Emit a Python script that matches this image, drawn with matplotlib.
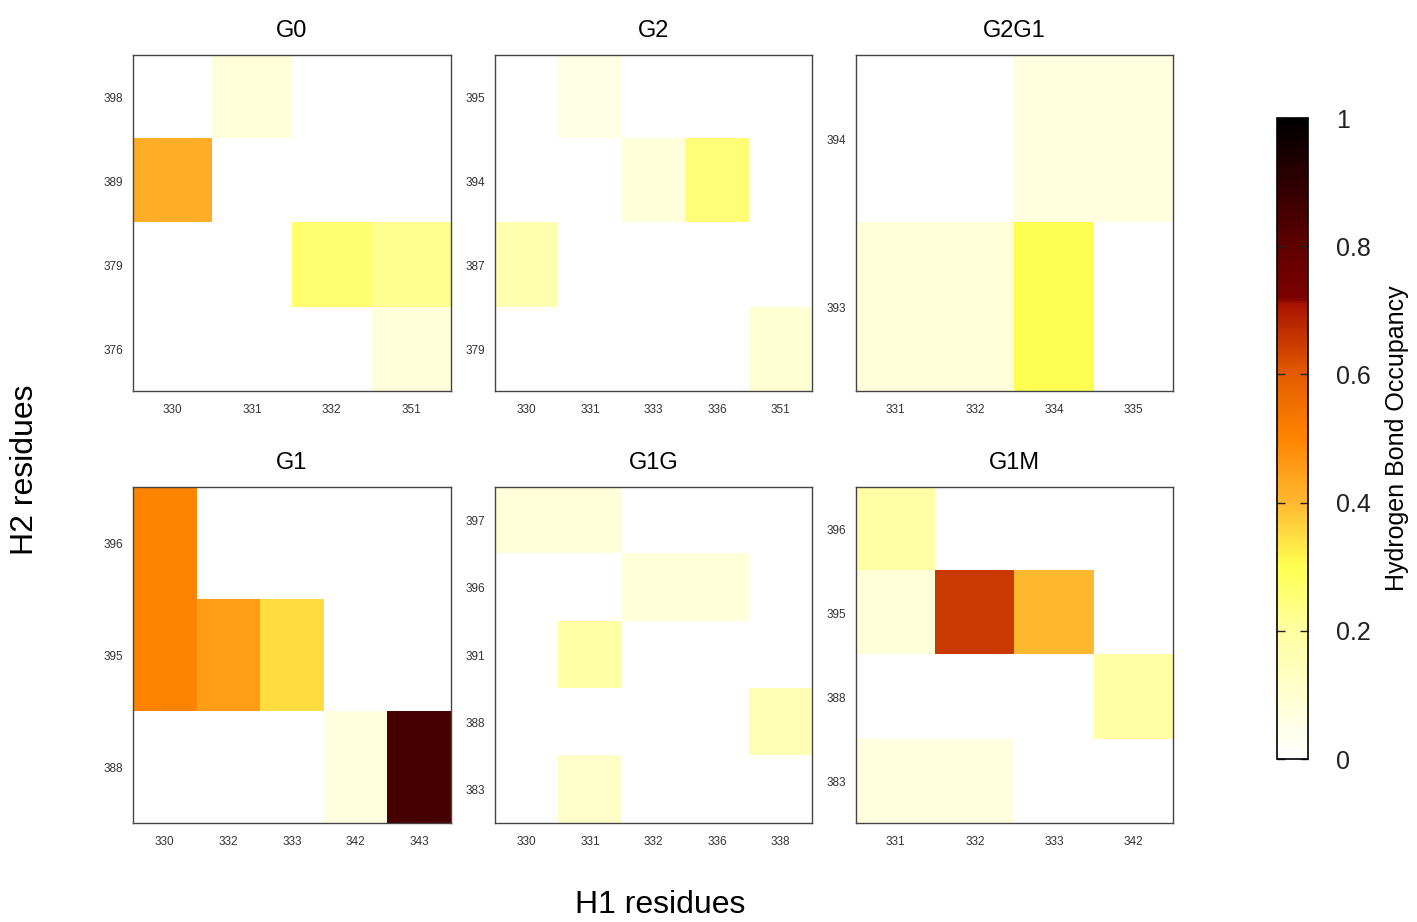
import numpy as np
import matplotlib
matplotlib.use("Agg")
import matplotlib.pyplot as plt
from matplotlib.colors import LinearSegmentedColormap

plt.rcParams['font.family'] = ['Liberation Sans', 'DejaVu Sans']

# ---------------- data ----------------
g0_x = ["330", "331", "332", "351"]
g0_y = ["398", "389", "379", "376"]
g0_v = [[0.00, 0.08, 0.00, 0.00],
        [0.42, 0.00, 0.00, 0.00],
        [0.00, 0.00, 0.26, 0.22],
        [0.00, 0.00, 0.00, 0.08]]

g2_x = ["330", "331", "333", "336", "351"]
g2_y = ["395", "394", "387", "379"]
g2_v = [[0.00, 0.06, 0.00, 0.00, 0.00],
        [0.00, 0.00, 0.08, 0.25, 0.00],
        [0.17, 0.00, 0.00, 0.00, 0.00],
        [0.00, 0.00, 0.00, 0.00, 0.09]]

g2g1_x = ["331", "332", "334", "335"]
g2g1_y = ["394", "393"]
g2g1_v = [[0.00, 0.00, 0.07, 0.07],
          [0.08, 0.08, 0.30, 0.00]]

g1_x = ["330", "332", "333", "342", "343"]
g1_y = ["396", "395", "388"]
g1_v = [[0.50, 0.00, 0.00, 0.00, 0.00],
        [0.50, 0.45, 0.35, 0.00, 0.00],
        [0.00, 0.00, 0.00, 0.07, 0.85]]

g1g_x = ["330", "331", "332", "336", "338"]
g1g_y = ["397", "396", "391", "388", "383"]
g1g_v = [[0.08, 0.08, 0.00, 0.00, 0.00],
         [0.00, 0.00, 0.08, 0.08, 0.00],
         [0.00, 0.19, 0.00, 0.00, 0.00],
         [0.00, 0.00, 0.00, 0.00, 0.16],
         [0.00, 0.11, 0.00, 0.00, 0.00]]

g1m_x = ["331", "332", "333", "342"]
g1m_y = ["396", "395", "388", "383"]
g1m_v = [[0.19, 0.00, 0.00, 0.00],
         [0.08, 0.65, 0.40, 0.00],
         [0.00, 0.00, 0.00, 0.19],
         [0.07, 0.07, 0.00, 0.00]]

titles = ["G0", "G2", "G2G1", "G1", "G1G", "G1M"]
panels = [(g0_x, g0_y, g0_v), (g2_x, g2_y, g2_v), (g2g1_x, g2g1_y, g2g1_v),
          (g1_x, g1_y, g1_v), (g1g_x, g1g_y, g1g_v), (g1m_x, g1m_y, g1m_v)]
cbar_ticks = [0, 0.2, 0.4, 0.6, 0.8, 1]
cbar_ticklabels = ["0", "0.2", "0.4", "0.6", "0.8", "1"]

# ---------------- colormap ----------------
cmap = LinearSegmentedColormap.from_list("hb", [
    (0.00, "#ffffff"),
    (0.20, "#ffffa0"),
    (0.30, "#ffff50"),
    (0.40, "#ffb830"),
    (0.50, "#ff8400"),
    (0.60, "#e45c00"),
    (0.71, "#a81400"),
    (0.72, "#7c0000"),
    (0.80, "#600000"),
    (1.00, "#000000"),
])

W, H = 1417, 922
fig = plt.figure(figsize=(W / 100, H / 100), dpi=100)

def px_axes(x0, y0, x1, y1):
    return fig.add_axes([x0 / W, 1 - y1 / H, (x1 - x0) / W, (y1 - y0) / H])

boxes = [(133, 55, 451, 391), (495, 55, 812, 391), (856, 55, 1173, 391),
         (133, 487, 451, 823), (495, 487, 812, 823), (856, 487, 1173, 823)]

im = None
for (xl, yl, v), t, b in zip(panels, titles, boxes):
    ax = px_axes(*b)
    im = ax.imshow(np.array(v), cmap=cmap, vmin=0, vmax=1, aspect='auto',
                   interpolation='nearest')
    ax.set_xticks(range(len(xl)))
    ax.set_xticklabels(xl)
    ax.set_yticks(range(len(yl)))
    ax.set_yticklabels(yl)
    ax.tick_params(length=0, labelsize=8.5, colors="#333333")
    ax.tick_params(axis='x', pad=9)
    ax.tick_params(axis='y', pad=7)
    ax.set_title(t, fontsize=17, pad=13)
    for s in ax.spines.values():
        s.set_color("#444444")
        s.set_linewidth(1.0)

cax = px_axes(1277, 118, 1308, 759)
cb = fig.colorbar(im, cax=cax, ticks=cbar_ticks)
cb.ax.set_yticklabels(cbar_ticklabels)
cb.ax.tick_params(direction='in', length=6, width=1.0, left=True, right=True,
                  labelsize=18, pad=20, colors="#222222")
cb.outline.set_linewidth(1.2)
cb.set_label("Hydrogen Bond Occupancy", fontsize=18, labelpad=10)

fig.text(25 / W, 1 - 470 / H, "H2 residues", rotation=90, ha='center',
         va='center', fontsize=23)
fig.text(660 / W, 1 - 905 / H, "H1 residues", ha='center', va='center',
         fontsize=23)

fig.savefig("out.png", dpi=100)
